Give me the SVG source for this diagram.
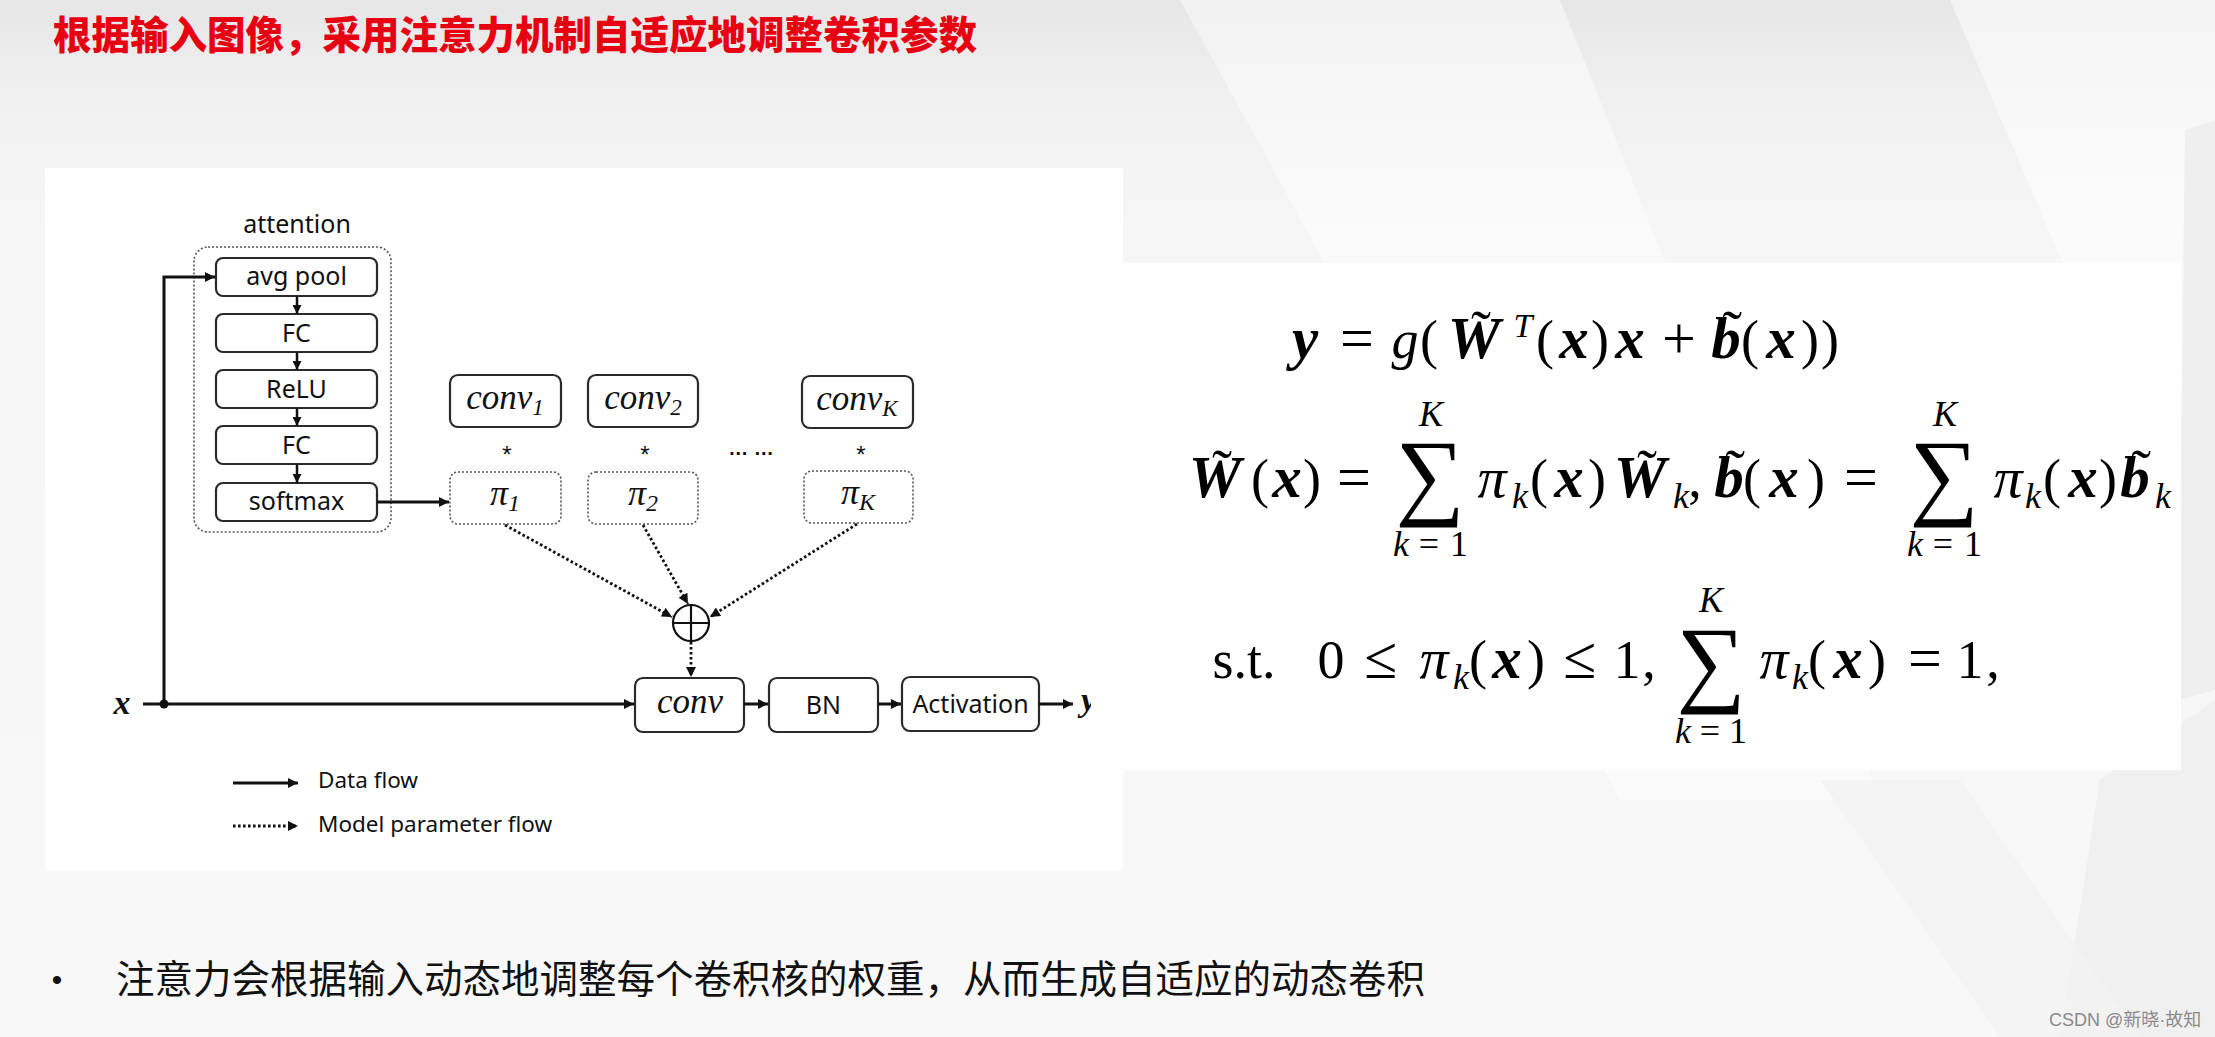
<svg xmlns="http://www.w3.org/2000/svg" width="2215" height="1037" viewBox="0 0 2215 1037">
<defs>
<linearGradient id="bg" x1="0" y1="0" x2="0" y2="1">
<stop offset="0" stop-color="#e6e6e6"/>
<stop offset="0.09" stop-color="#f0f0f0"/>
<stop offset="0.22" stop-color="#f6f6f6"/>
<stop offset="1" stop-color="#f8f8f8"/>
</linearGradient>
<marker id="ah" viewBox="0 0 10 10" refX="10" refY="5" markerWidth="12" markerHeight="10" markerUnits="userSpaceOnUse" orient="auto"><path d="M0,0 L10,5 L0,10 z" fill="#111"/></marker>
<marker id="ahs" viewBox="0 0 10 10" refX="10" refY="5" markerWidth="9" markerHeight="9" markerUnits="userSpaceOnUse" orient="auto"><path d="M0,0 L10,5 L0,10 z" fill="#111"/></marker>
<clipPath id="yclip"><rect x="1070" y="680" width="21" height="50"/></clipPath>
<style>
.box{fill:#fff;stroke:#2a2a2a;stroke-width:2.2}
.dbox{fill:#fff;stroke:#555;stroke-width:1.6;stroke-dasharray:2 2}
.lbl{font-family:"Noto Sans","Open Sans",sans-serif;font-size:25px;fill:#111;text-anchor:middle}
.leg{font-family:"Noto Sans","Open Sans",sans-serif;font-size:22.5px;fill:#111}
.mi{font-family:"Liberation Serif",serif;font-style:italic;fill:#111;text-anchor:middle}
.data{stroke:#111;stroke-width:3;fill:none;marker-end:url(#ah)}
.datas{stroke:#111;stroke-width:2.5;fill:none;marker-end:url(#ahs)}
.param{stroke:#111;stroke-width:2.8;stroke-dasharray:2.6 2.4;fill:none;marker-end:url(#ah)}
.f{font-family:"Liberation Serif","DejaVu Serif",serif;fill:#000;text-anchor:middle;font-size:54px}
.bi{font-weight:bold;font-style:italic;font-size:59px}
.it{font-style:italic}
.pi{font-style:italic;font-size:58px}
.sm{font-size:36px}
.sub{font-style:italic;font-size:36px}
.sig{font-size:97px}
.op{font-size:60px}
.til{font-size:60px}
</style>
</defs>

<!-- background -->
<rect x="0" y="0" width="2215" height="1037" fill="url(#bg)"/>
<g id="background-shapes">
<polygon points="1180,0 1560,0 1880,800 1620,800" fill="#ffffff" opacity="0.45"/>
<polygon points="1950,0 2215,0 2215,620" fill="#ffffff" opacity="0.5"/>
<polygon points="2100,780 2215,700 2215,1037 2060,1037" fill="#eeeeee" opacity="0.8"/>
<polygon points="1820,780 1960,780 2140,1037 2000,1037" fill="#f2f2f2" opacity="0.8"/>
<polygon points="2185,130 2215,120 2215,690 2178,700" fill="#efefef"/>
</g>
<rect id="panel-diagram" x="45" y="168" width="1078" height="703" fill="#ffffff"/>
<rect id="panel-formula" x="1123" y="263" width="1058" height="507" fill="#ffffff"/>

<!-- title -->
<text id="title" x="53" y="49" font-family="Noto Sans CJK SC, sans-serif" font-size="38.5" font-weight="900" fill="#e60012">根据输入图像，采用注意力机制自适应地调整卷积参数</text>

<!-- attention block -->
<g id="attention">
<text class="lbl" x="297" y="233">attention</text>
<rect class="dbox" x="194" y="247" width="197" height="285" rx="14"/>
</g>
<g id="avgpool"><rect class="box" x="216" y="258" width="161" height="38" rx="7"/><text class="lbl" x="296.5" y="285">avg pool</text></g>
<g id="fc1"><rect class="box" x="216" y="314" width="161" height="38" rx="7"/><text class="lbl" x="296.5" y="342">FC</text></g>
<g id="relu"><rect class="box" x="216" y="370" width="161" height="38" rx="7"/><text class="lbl" x="296.5" y="398">ReLU</text></g>
<g id="fc2"><rect class="box" x="216" y="426" width="161" height="38" rx="7"/><text class="lbl" x="296.5" y="454">FC</text></g>
<g id="softmax"><rect class="box" x="216" y="483" width="161" height="38" rx="7"/><text class="lbl" x="296.5" y="510">softmax</text></g>

<!-- kernels -->
<g id="conv1"><rect class="box" x="450" y="375" width="111" height="52" rx="8"/><text class="mi" x="505" y="409" font-size="35">conv<tspan font-size="23" dy="6">1</tspan></text></g>
<g id="conv2"><rect class="box" x="588" y="375" width="110" height="52" rx="8"/><text class="mi" x="643" y="409" font-size="35">conv<tspan font-size="23" dy="6">2</tspan></text></g>
<g id="convK"><rect class="box" x="802" y="376" width="111" height="52" rx="8"/><text class="mi" x="857" y="410" font-size="35">conv<tspan font-size="23" dy="6">K</tspan></text></g>
<g id="stars" font-family="Liberation Sans, sans-serif" font-size="24" fill="#111" text-anchor="middle">
<text x="507" y="463">*</text><text x="645" y="463">*</text><text x="861" y="463">*</text>
<text x="751" y="455" font-weight="bold" font-size="20">… …</text>
</g>
<g id="pi1"><rect class="dbox" x="450" y="472" width="111" height="52" rx="8"/><text class="mi" x="505" y="505" font-size="36">π<tspan font-size="24" dy="6">1</tspan></text></g>
<g id="pi2"><rect class="dbox" x="588" y="472" width="110" height="52" rx="8"/><text class="mi" x="643" y="505" font-size="36">π<tspan font-size="24" dy="6">2</tspan></text></g>
<g id="piK"><rect class="dbox" x="804" y="471" width="109" height="52" rx="8"/><text class="mi" x="858" y="504" font-size="36">π<tspan font-size="24" dy="6">K</tspan></text></g>

<g id="sum-node" stroke="#111" stroke-width="2.2" fill="#fff">
<circle cx="691" cy="623" r="18"/>
<line x1="673" y1="623" x2="709" y2="623"/>
<line x1="691" y1="605" x2="691" y2="641"/>
</g>

<!-- main path -->
<g id="input-x"><text x="122" y="714" font-family="Liberation Serif, serif" font-weight="bold" font-style="italic" font-size="34" text-anchor="middle" fill="#111">x</text><circle cx="164" cy="704" r="4.5" fill="#111"/></g>
<g id="conv"><rect class="box" x="635" y="678" width="109" height="54" rx="8"/><text class="mi" x="690" y="713" font-size="35">conv</text></g>
<g id="bn"><rect class="box" x="769" y="678" width="109" height="54" rx="8"/><text class="lbl" x="823.5" y="714">BN</text></g>
<g id="activation"><rect class="box" x="902" y="677" width="137" height="54" rx="8"/><text class="lbl" x="970.5" y="713">Activation</text></g>
<g id="output-y"><text x="1081" y="711" clip-path="url(#yclip)" font-family="Liberation Serif, serif" font-weight="bold" font-style="italic" font-size="34" fill="#111">y</text></g>

<!-- connectors -->
<g id="connectors">
<line class="datas" x1="297" y1="296" x2="297" y2="314"/>
<line class="datas" x1="297" y1="352" x2="297" y2="370"/>
<line class="datas" x1="297" y1="408" x2="297" y2="426"/>
<line class="datas" x1="297" y1="464" x2="297" y2="483"/>
<line class="data" x1="377" y1="502" x2="449" y2="502"/>
<line class="data" x1="143" y1="704" x2="634" y2="704"/>
<polyline class="data" points="164,704 164,277 215,277"/>
<line class="data" x1="744" y1="704" x2="768" y2="704"/>
<line class="data" x1="878" y1="704" x2="901" y2="704"/>
<line class="data" x1="1039" y1="704" x2="1073" y2="704"/>
<line class="param" x1="505" y1="525" x2="672" y2="617"/>
<line class="param" x1="643" y1="525" x2="688" y2="604"/>
<line class="param" x1="857" y1="524" x2="710" y2="617"/>
<line class="param" x1="691" y1="642" x2="691" y2="677"/>
</g>

<!-- legend -->
<g id="legend">
<line class="data" x1="233" y1="783" x2="298" y2="783"/>
<text class="leg" x="318" y="788">Data flow</text>
<line class="param" x1="233" y1="826" x2="298" y2="826" stroke-width="2.2"/>
<text class="leg" x="318" y="832">Model parameter flow</text>
</g>

<!-- formulas -->
<text id="formula-1" class="f"><tspan class="bi" x="1305" y="358">y</tspan><tspan class="op" x="1357" y="358">=</tspan><tspan class="it" x="1405" y="358">g</tspan><tspan x="1429" y="358">(</tspan><tspan class="bi" x="1474" y="358">W</tspan><tspan class="til" x="1481" y="351">˜</tspan><tspan class="it" font-size="34" x="1523" y="337">T</tspan><tspan x="1545" y="358">(</tspan><tspan class="bi" x="1574" y="358">x</tspan><tspan x="1600" y="358">)</tspan><tspan class="bi" x="1630" y="358">x</tspan><tspan class="op" x="1679" y="358">+</tspan><tspan class="bi" x="1726" y="358">b</tspan><tspan class="til" x="1732" y="351">˜</tspan><tspan x="1750" y="358">(</tspan><tspan class="bi" x="1781" y="358">x</tspan><tspan x="1810" y="358">)</tspan><tspan x="1830" y="358">)</tspan></text>

<text id="formula-2" class="f"><tspan class="bi" x="1215" y="497">W</tspan><tspan class="til" x="1222" y="490">˜</tspan><tspan x="1260" y="497">(</tspan><tspan class="bi" x="1287" y="497">x</tspan><tspan x="1312" y="497">)</tspan><tspan class="op" x="1354" y="497">=</tspan><tspan class="sm it" x="1431" y="426">K</tspan><tspan class="sig" x="1430" y="507">∑</tspan><tspan class="sub" x="1401" y="556">k</tspan><tspan class="sm" x="1429" y="556">=</tspan><tspan class="sm" x="1459" y="556">1</tspan><tspan class="pi" x="1492" y="497">π</tspan><tspan class="sub" x="1520" y="508">k</tspan><tspan x="1539" y="497">(</tspan><tspan class="bi" x="1569" y="497">x</tspan><tspan x="1597" y="497">)</tspan><tspan class="bi" x="1640" y="497">W</tspan><tspan class="til" x="1647" y="490">˜</tspan><tspan class="sub" x="1681" y="508">k</tspan><tspan x="1695" y="497">,</tspan><tspan class="bi" x="1729" y="497">b</tspan><tspan class="til" x="1735" y="490">˜</tspan><tspan x="1752" y="497">(</tspan><tspan class="bi" x="1784" y="497">x</tspan><tspan x="1816" y="497">)</tspan><tspan class="op" x="1861" y="497">=</tspan><tspan class="sm it" x="1945" y="426">K</tspan><tspan class="sig" x="1944" y="507">∑</tspan><tspan class="sub" x="1915" y="556">k</tspan><tspan class="sm" x="1943" y="556">=</tspan><tspan class="sm" x="1973" y="556">1</tspan><tspan class="pi" x="2008" y="497">π</tspan><tspan class="sub" x="2033" y="508">k</tspan><tspan x="2052" y="497">(</tspan><tspan class="bi" x="2083" y="497">x</tspan><tspan x="2108" y="497">)</tspan><tspan class="bi" x="2135" y="497">b</tspan><tspan class="til" x="2141" y="490">˜</tspan><tspan class="sub" x="2163" y="508">k</tspan></text>

<text id="formula-3" class="f"><tspan x="1244" y="678">s.t.</tspan><tspan x="1331" y="678">0</tspan><tspan class="op" x="1381" y="678">≤</tspan><tspan class="pi" x="1434" y="678">π</tspan><tspan class="sub" x="1461" y="689">k</tspan><tspan x="1478" y="678">(</tspan><tspan class="bi" x="1507" y="678">x</tspan><tspan x="1536" y="678">)</tspan><tspan class="op" x="1580" y="678">≤</tspan><tspan x="1627" y="678">1</tspan><tspan x="1649" y="678">,</tspan><tspan class="sm it" x="1711" y="612">K</tspan><tspan class="sig" x="1711" y="694">∑</tspan><tspan class="sub" x="1683" y="743">k</tspan><tspan class="sm" x="1710" y="743">=</tspan><tspan class="sm" x="1738" y="743">1</tspan><tspan class="pi" x="1774" y="678">π</tspan><tspan class="sub" x="1800" y="689">k</tspan><tspan x="1817" y="678">(</tspan><tspan class="bi" x="1848" y="678">x</tspan><tspan x="1877" y="678">)</tspan><tspan class="op" x="1925" y="678">=</tspan><tspan x="1970" y="678">1</tspan><tspan x="1993" y="678">,</tspan></text>

<!-- bullet -->
<g id="bullet">
<text x="57" y="990" font-family="Liberation Sans, sans-serif" font-size="30" text-anchor="middle" fill="#111">•</text>
<text x="116" y="993" font-family="Noto Sans CJK SC, sans-serif" font-size="38.5" fill="#111">注意力会根据输入动态地调整每个卷积核的权重，从而生成自适应的动态卷积</text>
</g>
<text id="watermark" x="2049" y="1026" font-family="Liberation Sans, Noto Sans CJK SC, sans-serif" font-size="18" fill="#8a8a8a">CSDN @新晓·故知</text>
</svg>
